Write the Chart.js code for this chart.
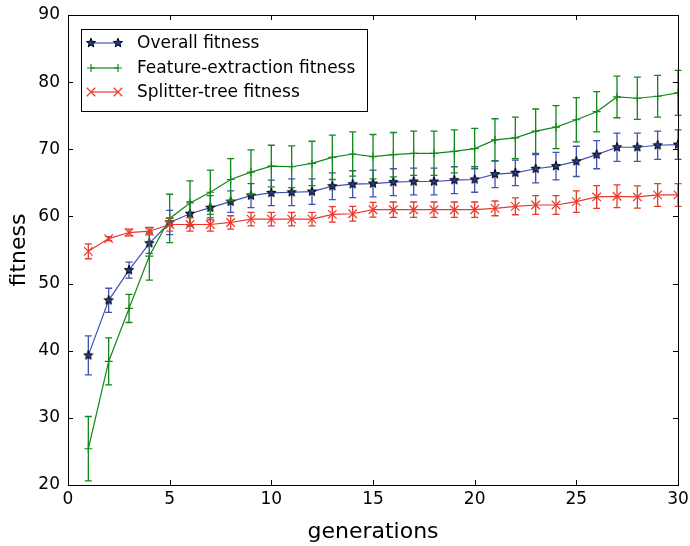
<!DOCTYPE html>
<html><head><meta charset="utf-8">
<script src="https://cdn.jsdelivr.net/npm/chart.js@4/dist/chart.umd.min.js"></script>
<style>html,body{margin:0;padding:0;background:#fff}</style>
</head><body>
<canvas id="c" width="690" height="546"></canvas>
<script>
const generations = [1,2,3,4,5,6,7,8,9,10,11,12,13,14,15,16,17,18,19,20,21,22,23,24,25,26,27,28,29,30];
const overall    = [39.3,47.5,52.0,56.0,59.1,60.4,61.3,62.2,63.1,63.5,63.6,63.7,64.5,64.8,64.9,65.1,65.2,65.2,65.4,65.5,66.3,66.5,67.1,67.5,68.2,69.2,70.3,70.3,70.6,70.7];
const overallErr = [2.9,1.8,1.2,1.5,1.8,1.8,1.8,1.6,1.8,1.9,2.0,1.9,2.0,2.0,2.0,2.0,2.0,2.0,2.0,1.9,2.0,1.9,2.1,2.05,2.25,2.1,2.1,2.1,2.1,2.2];
const feature    = [25.4,38.4,46.3,54.1,59.7,62.0,63.6,65.5,66.6,67.5,67.4,67.9,68.8,69.3,68.9,69.2,69.4,69.4,69.7,70.1,71.4,71.7,72.7,73.3,74.4,75.6,77.8,77.6,77.9,78.4];
const featureErr = [4.8,3.5,2.1,3.6,3.6,3.3,3.3,3.1,3.3,3.1,3.1,3.3,3.3,3.3,3.3,3.3,3.3,3.3,3.2,3.0,3.15,3.1,3.3,3.2,3.3,3.0,3.1,3.15,3.1,3.35];
const splitter   = [54.8,56.7,57.6,57.8,58.8,58.8,58.8,59.1,59.6,59.6,59.6,59.6,60.3,60.4,61.0,61.0,61.0,61.0,61.0,61.0,61.2,61.5,61.7,61.7,62.2,62.9,63.0,62.9,63.2,63.2];
const splitterErr= [1.1,0.3,0.5,0.55,1.0,1.0,1.0,1.0,1.0,1.0,1.0,1.0,1.15,1.1,1.1,1.15,1.15,1.15,1.15,1.15,1.1,1.25,1.4,1.4,1.6,1.7,1.7,1.65,1.7,1.7];
const seriesLabels = ["Overall fitness","Feature-extraction fitness","Splitter-tree fitness"];
const xTicks = [0,5,10,15,20,25,30];
const yTicks = [20,30,40,50,60,70,80,90];

const FONT = "'DejaVu Sans', sans-serif";
const BLUE = "#3f51b5", GREEN = "#11881a", RED = "#e8392c";

function makeStar(R){
  const s = Math.ceil(R*2+4);
  const c = document.createElement('canvas'); c.width = s; c.height = s;
  const g = c.getContext('2d');
  const r = R*0.42, cx = s/2, cy = s/2;
  g.beginPath();
  for(let k=0;k<10;k++){
    const a = -Math.PI/2 + k*Math.PI/5;
    const rr = (k%2===0)?R:r;
    const px = cx + rr*Math.cos(a), py = cy + rr*Math.sin(a);
    if(k===0) g.moveTo(px,py); else g.lineTo(px,py);
  }
  g.closePath();
  g.fillStyle = "#233a96"; g.fill();
  g.lineWidth = 1; g.strokeStyle = "#000"; g.stroke();
  return c;
}
const star = makeStar(4.8);

function pts(vals){ return generations.map((g,i)=>({x:g,y:vals[i]})); }

const errPlugin = {
  id:'errbars',
  beforeDatasetDraw(chart, args){
    const ds = chart.data.datasets[args.index];
    const xs = chart.scales.x, ys = chart.scales.y, ctx = chart.ctx;
    ctx.save();
    ctx.strokeStyle = ds.borderColor; ctx.lineWidth = 1.3;
    ds.data.forEach((p,i)=>{
      const e = ds.errors[i];
      const x = xs.getPixelForValue(p.x);
      const yt = ys.getPixelForValue(p.y+e), yb = ys.getPixelForValue(p.y-e);
      ctx.beginPath();
      ctx.moveTo(x,yt); ctx.lineTo(x,yb);
      ctx.moveTo(x-3.5,yt); ctx.lineTo(x+3.5,yt);
      ctx.moveTo(x-3.5,yb); ctx.lineTo(x+3.5,yb);
      ctx.stroke();
    });
    ctx.restore();
  }
};

const framePlugin = {
  id:'frame',
  afterDraw(chart){
    const {left,right,top,bottom} = chart.chartArea;
    const ctx = chart.ctx, xs = chart.scales.x, ys = chart.scales.y;
    ctx.save();
    ctx.strokeStyle = "#000"; ctx.lineWidth = 1;
    ctx.strokeRect(Math.round(left)+0.5, Math.round(top)+0.5, Math.round(right-left), Math.round(bottom-top));
    ctx.beginPath();
    const T = 5;
    xTicks.forEach(v=>{ const x = Math.round(xs.getPixelForValue(v))+0.5;
      ctx.moveTo(x,bottom); ctx.lineTo(x,bottom-T); ctx.moveTo(x,top); ctx.lineTo(x,top+T); });
    yTicks.forEach(v=>{ const y = Math.round(ys.getPixelForValue(v))+0.5;
      ctx.moveTo(left,y); ctx.lineTo(left+T,y); ctx.moveTo(right,y); ctx.lineTo(right-T,y); });
    ctx.stroke();
    // legend
    const bx = 81, by = 29, bw = 286, bh = 82;
    ctx.fillStyle = "#fff"; ctx.fillRect(bx,by,bw,bh);
    ctx.strokeStyle = "#000"; ctx.lineWidth = 1;
    ctx.strokeRect(bx+0.5,by+0.5,bw,bh);
    const rows = [43, 68, 92];
    ctx.font = "17px " + FONT; ctx.textBaseline = "middle"; ctx.textAlign = "left";
    chart.data.datasets.forEach((ds,i)=>{
      const y = rows[i];
      ctx.strokeStyle = ds.borderColor; ctx.lineWidth = 1.2;
      ctx.beginPath(); ctx.moveTo(91,y); ctx.lineTo(118,y); ctx.stroke();
      [91,118].forEach(x=>{
        if(ds.pointStyle === star){ ctx.drawImage(star, x-star.width/2, y-star.height/2); }
        else {
          const r = ds.pointRadius; ctx.beginPath(); ctx.lineWidth = 1.2;
          if(ds.pointStyle==='cross'){ ctx.moveTo(x-r,y); ctx.lineTo(x+r,y); ctx.moveTo(x,y-r); ctx.lineTo(x,y+r); }
          else { const d = r*Math.SQRT1_2; ctx.moveTo(x-d,y-d); ctx.lineTo(x+d,y+d); ctx.moveTo(x-d,y+d); ctx.lineTo(x+d,y-d); }
          ctx.stroke();
        }
      });
      ctx.fillStyle = "#000";
      ctx.fillText(ds.label, 137, y+1);
    });
    ctx.restore();
  }
};

new Chart(document.getElementById('c'), {
  type:'line',
  data:{ datasets:[
    {label:seriesLabels[0], data:pts(overall), errors:overallErr, borderColor:BLUE, backgroundColor:BLUE, borderWidth:1.2,
     pointStyle:star, pointRadius:5, order:3},
    {label:seriesLabels[1], data:pts(feature), errors:featureErr, borderColor:GREEN, backgroundColor:GREEN, borderWidth:1.2,
     pointStyle:'cross', pointRadius:4, pointBorderWidth:1.2, order:2},
    {label:seriesLabels[2], data:pts(splitter), errors:splitterErr, borderColor:RED, backgroundColor:RED, borderWidth:1.2,
     pointStyle:'crossRot', pointRadius:6, pointBorderWidth:1.2, order:1}
  ]},
  options:{
    responsive:false, animation:false, devicePixelRatio:1,
    layout:{padding:{top:15,right:12,bottom:0,left:0}},
    plugins:{legend:{display:false}, tooltip:{enabled:false}},
    elements:{line:{tension:0, fill:false}},
    scales:{
      x:{type:'linear', min:0, max:30,
        afterFit:s=>{s.height=61; s.paddingLeft=0; s.paddingRight=0;},
        afterBuildTicks:s=>{s.ticks = xTicks.map(v=>({value:v}));},
        grid:{display:false, drawTicks:false}, border:{display:false},
        ticks:{color:"#000", font:{family:FONT,size:17}, padding:4, maxRotation:0},
        title:{display:true, text:'generations', color:"#000", font:{family:FONT,size:22}, padding:{top:4,bottom:1}}},
      y:{type:'linear', min:20, max:90,
        afterFit:s=>{s.width=68; s.paddingTop=0; s.paddingBottom=0;},
        afterBuildTicks:s=>{s.ticks = yTicks.map(v=>({value:v}));},
        grid:{display:false, drawTicks:false}, border:{display:false},
        ticks:{color:"#000", font:{family:FONT,size:17}, padding:8},
        title:{display:true, text:'fitness', color:"#000", font:{family:FONT,size:22}, padding:{top:6,bottom:4}}}
    }
  },
  plugins:[errPlugin, framePlugin]
});
</script>
</body></html>
